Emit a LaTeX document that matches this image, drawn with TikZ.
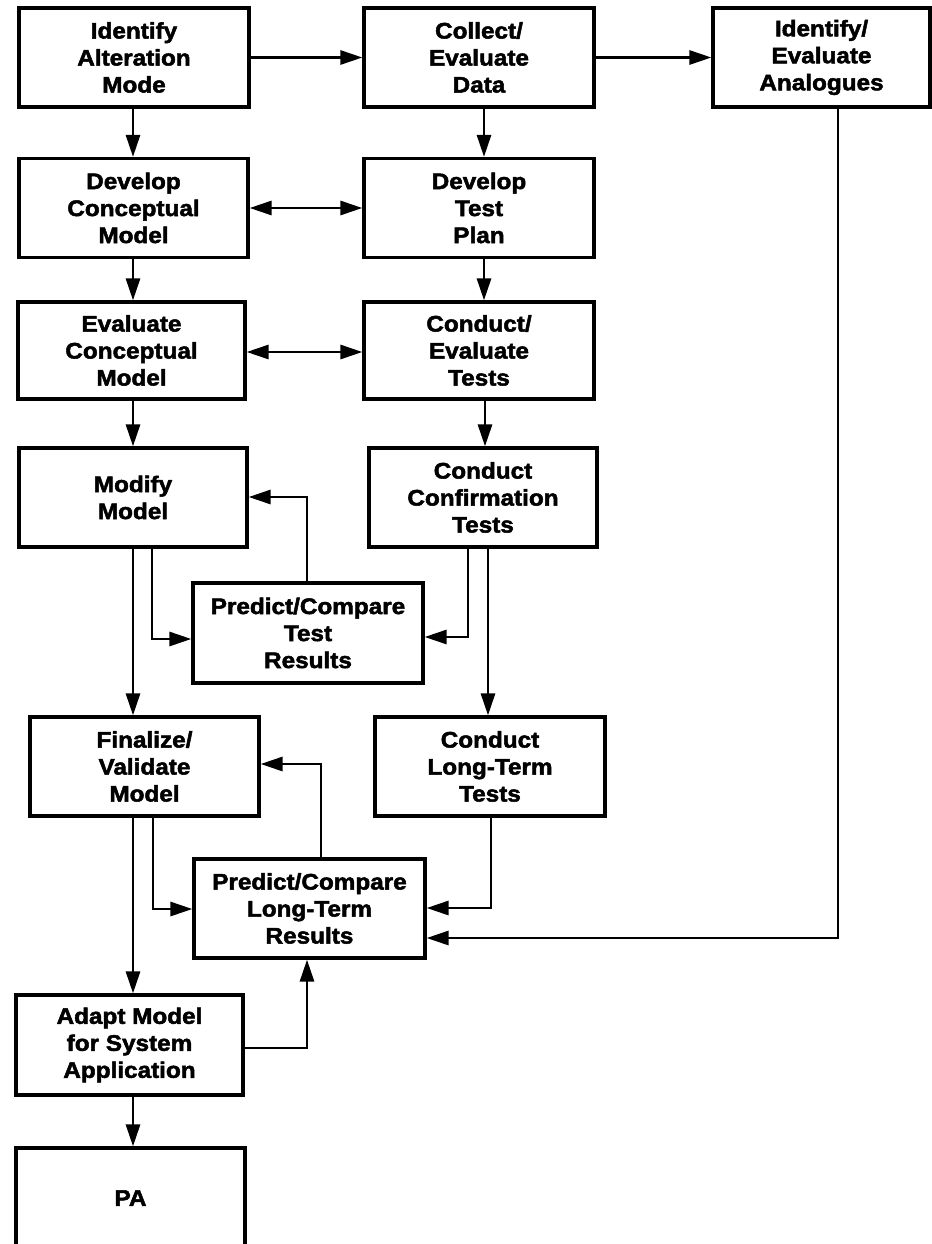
\documentclass[tikz,border=0pt]{standalone}
\usepackage{fontspec}
\setmainfont[FakeStretch=1.08,BoldFeatures={FakeBold=2.2}]{Liberation Sans}
\usetikzlibrary{arrows.meta,calc}
\begin{document}
\begin{tikzpicture}[x=1pt,y=-1pt,
  box/.style={draw,line width=3.2pt,rectangle,inner sep=0pt,align=center,
    minimum height=99pt,font=\fontsize{22.5pt}{27pt}\selectfont\bfseries},
  tip/.style={},
  arr/.style={line width=2.8pt,-{Triangle[length=22pt,width=14pt]}},
  darr/.style={line width=2.8pt,{Triangle[length=22pt,width=14pt]}-{Triangle[length=22pt,width=14pt]}}]
\useasboundingbox (0,0) rectangle (931,1244);
% row 1
\node[box,minimum width=230pt] (A) at (134,57.5) {Identify\\Alteration\\Mode};
\node[box,minimum width=230pt] (C) at (479,57.5) {Collect/\\Evaluate\\Data};
\node[box,minimum width=217pt] (AN) at (821.5,57.5) {Identify/\\Evaluate\\Analogues};
% row 2
\node[box,minimum width=229pt] (DC) at (133.5,208) {Develop\\Conceptual\\Model};
\node[box,minimum width=230pt] (DT) at (479,208) {Develop\\Test\\Plan};
% row 3
\node[box,minimum width=227pt,minimum height=97pt] (EC) at (131.5,350.5) {Evaluate\\Conceptual\\Model};
\node[box,minimum width=230pt,minimum height=97pt] (CE) at (479,350.5) {Conduct/\\Evaluate\\Tests};
% row 4
\node[box,minimum width=228pt] (MM) at (133,497.5) {Modify\\Model};
\node[box,minimum width=228pt] (CC) at (483,497.5) {Conduct\\Confirmation\\Tests};
\node[box,minimum width=230pt,minimum height=100pt] (PT) at (308,633) {Predict/Compare\\Test\\Results};
% row 5
\node[box,minimum width=229pt] (FV) at (144.5,766.5) {Finalize/\\Validate\\Model};
\node[box,minimum width=230pt] (CL) at (490,766.5) {Conduct\\Long-Term\\Tests};
\node[box,minimum width=231pt] (PL) at (309.5,908.5) {Predict/Compare\\Long-Term\\Results};
% bottom
\node[box,minimum width=227pt,minimum height=100pt] (AD) at (129.5,1045) {Adapt Model\\for System\\Application};
\node[box,minimum width=229pt,minimum height=100pt] (PA) at (130.5,1198) {PA};
% bend coordinates
\coordinate (k1) at (307,497);
\coordinate (k2) at (152,639);
\coordinate (k3) at (468,637);
\coordinate (k4) at (321,764);
\coordinate (k5) at (153,909);
\coordinate (k6) at (491,908);
\coordinate (k7) at (838,938);
\coordinate (k8) at (307,1048);
\coordinate (k9) at (488,0);
\coordinate (k10) at (484,0);
\coordinate (k11) at (133,0);
% connectors
\draw[arr] (A.east) -- (C.west);
\draw[arr] (C.east) -- (AN.west);
\draw[arr] (k11 |- A.south) -- (k11 |- DC.north);
\draw[arr] (k10 |- C.south) -- (k10 |- DT.north);
\draw[darr] (DC.east) -- (DT.west);
\draw[arr] (k11 |- DC.south) -- (k11 |- EC.north);
\draw[arr] (k10 |- DT.south) -- (k10 |- CE.north);
\draw[darr] ([yshift=-1.5pt]EC.east) -- ([yshift=-1.5pt]EC.east -| CE.west);
\draw[arr] (k11 |- EC.south) -- (k11 |- MM.north);
\draw[arr] ([xshift=1pt]k10 |- CE.south) -- ([xshift=1pt]k10 |- CC.north);
\draw[arr] (k1 |- PT.north) |- (k1 -| MM.east);
\draw[arr] (k2 |- MM.south) |- (k2 -| PT.west);
\draw[arr] (k11 |- MM.south) -- (k11 |- FV.north);
\draw[arr] (k3 |- CC.south) |- (k3 -| PT.east);
\draw[arr] (k9 |- CC.south) -- (k9 |- CL.north);
\draw[arr] (k4 |- PL.north) |- (k4 -| FV.east);
\draw[arr] (k5 |- FV.south) |- (k5 -| PL.west);
\draw[arr] (k11 |- FV.south) -- (k11 |- AD.north);
\draw[arr] (k6 |- CL.south) |- (k6 -| PL.east);
\draw[arr] (k7 |- AN.south) |- (k7 -| PL.east);
\draw[arr] (k8 -| AD.east) -| (k8 |- PL.south);
\draw[arr] (k11 |- AD.south) -- (k11 |- PA.north);
\end{tikzpicture}
\end{document}
